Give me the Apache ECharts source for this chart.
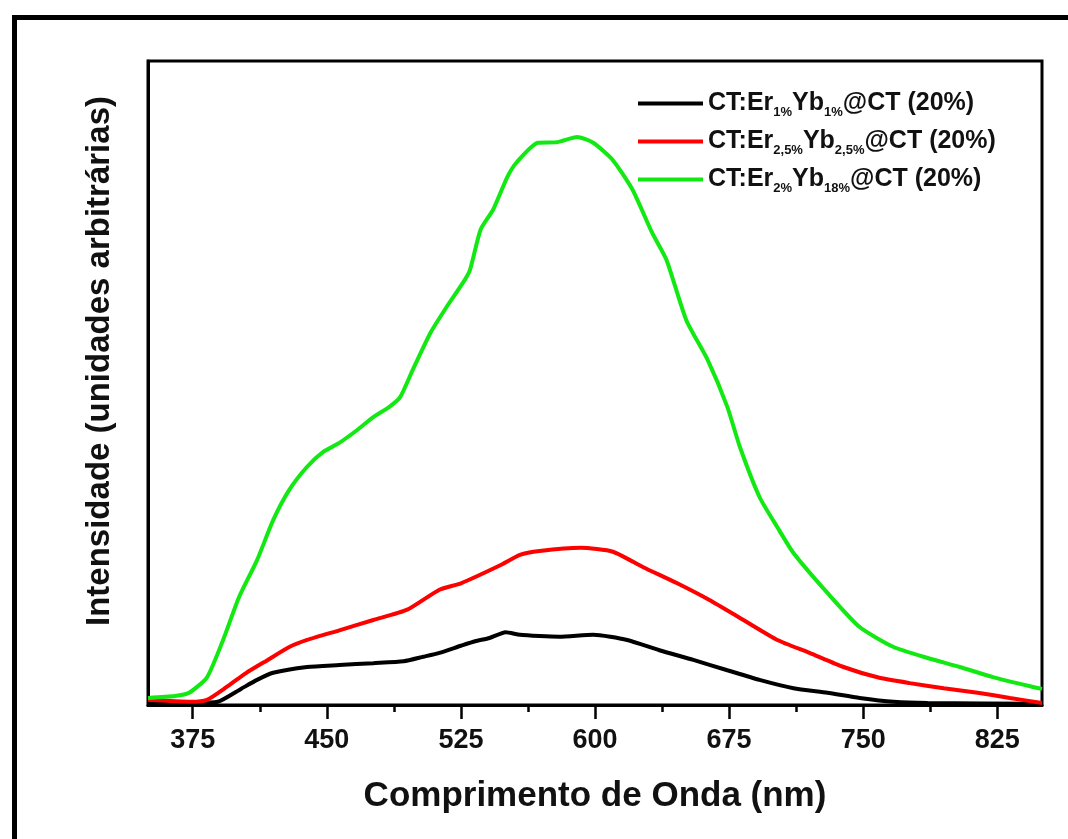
<!DOCTYPE html>
<html>
<head>
<meta charset="utf-8">
<script src="https://cdn.jsdelivr.net/npm/echarts@6/dist/echarts.min.js"></script>
<style>
  html, body { margin: 0; padding: 0; background: #fff; }
  #chart { width: 1068px; height: 839px; }
</style>
</head>
<body>
<div id="chart"></div>
<script>
// ---- data ----
const seriesNames = ['CT:Er1%Yb1%@CT (20%)', 'CT:Er2,5%Yb2,5%@CT (20%)', 'CT:Er2%Yb18%@CT (20%)'];
const legendSubs = [['1%', '1%'], ['2,5%', '2,5%'], ['2%', '18%']];

const blackX = [350,374,389,402,411,420,439,457,476,493,504,513,525,533,541,550,558,569,580,599,618,636,655,674,692,711,730,748,767,786,850];
const blackY = [0.2,0.3,0.5,2.5,3.9,5.0,5.9,6.2,6.5,6.8,7.5,8.1,9.2,9.9,10.4,11.3,10.9,10.7,10.6,10.9,10.1,8.5,7.0,5.4,3.9,2.6,1.9,1.1,0.5,0.3,0.2];

const redX = [350,374,383,394,405,417,429,439,457,476,495,513,525,547,558,569,592,610,627,646,664,683,702,720,739,758,776,795,814,832,850];
const redY = [0.8,0.5,0.8,2.8,5.0,7.0,9.0,10.1,11.6,13.2,14.8,17.9,18.9,21.7,23.3,23.9,24.4,23.8,21.4,18.9,16.3,13.2,10.1,8.1,5.9,4.3,3.4,2.6,1.9,1.1,0.3];

const greenX = [350,365,373,383,392,401,411,420,429,439,448,457,467,476,485,491,498,508,517,526,530,536,543,551,556,568,579,590,599,610,621,632,640,651,663,674,681,692,702,711,730,748,767,786,804,823,845,850];
const greenY = [1.1,1.4,1.9,4.3,10.1,16.8,22.5,28.7,33.4,37.0,39.3,40.7,42.7,44.7,46.3,47.8,52.0,57.8,61.8,65.5,67.5,73.8,76.9,82.0,84.2,87.3,87.4,88.2,87.3,84.6,80.0,73.3,69.1,59.8,53.6,46.3,40.1,32.3,27.6,23.6,17.4,12.1,9.0,7.3,5.9,4.3,2.8,2.5];

const majorTicks = [375, 450, 525, 600, 675, 750, 825];
const minorTicks = [412.5, 487.5, 562.5, 637.5, 712.5, 787.5];

const xTitle = 'Comprimento de Onda (nm)';
const yTitle = 'Intensidade (unidades arbitrárias)';

// ---- chart ----
const FONT = '"Liberation Sans", Arial, Helvetica, sans-serif';
const pairs = (xs, ys) => xs.map((x, i) => [x, ys[i]]);
const chart = echarts.init(document.getElementById('chart'), null, { renderer: 'canvas' });

const lineSeries = (name, xs, ys, color) => ({
  name, type: 'line', data: pairs(xs, ys), xAxisIndex: 0, yAxisIndex: 0,
  showSymbol: false, symbol: 'none', smooth: 0.2,
  lineStyle: { color, width: 4 }, itemStyle: { color }
});

chart.setOption({
  animation: false,
  backgroundColor: '#fff',
  graphic: [{
    type: 'rect', left: 12, top: 15, z: 100,
    shape: { x: 0, y: 0, width: 1200, height: 1000 },
    style: { fill: 'none', stroke: '#000', lineWidth: 5 }
  }],
  grid: {
    left: 148, right: 26, top: 61, bottom: 134,
    show: true, borderColor: '#000', borderWidth: 3, backgroundColor: 'transparent'
  },
  legend: {
    orient: 'vertical', left: 633, top: 86, itemGap: 10,
    itemWidth: 65, itemHeight: 4, icon: 'rect',
    data: seriesNames,
    formatter: (name) => {
      const i = seriesNames.indexOf(name);
      const s = legendSubs[i];
      return '{m|CT:Er}{s|' + s[0] + '}{m|Yb}{s|' + s[1] + '}{m|@CT (20%)}';
    },
    textStyle: {
      fontFamily: FONT, fontWeight: 'bold', fontSize: 25, color: '#111',
      rich: {
        m: { fontFamily: FONT, fontWeight: 'bold', fontSize: 25, lineHeight: 31, color: '#111' },
        s: { fontFamily: FONT, fontWeight: 'bold', fontSize: 13, lineHeight: 6, verticalAlign: 'bottom', color: '#111' }
      }
    }
  },
  xAxis: [{
    type: 'value', min: 350, max: 850, position: 'bottom',
    splitLine: { show: false },
    axisLine: { show: true, lineStyle: { color: '#000', width: 3 } },
    axisTick: { show: true, customValues: majorTicks, length: 14, lineStyle: { color: '#000', width: 2.5 } },
    axisLabel: { show: true, customValues: majorTicks, margin: 22, fontFamily: FONT, fontWeight: 'bold', fontSize: 27, color: '#111' },
    name: xTitle, nameLocation: 'middle', nameGap: 74,
    nameTextStyle: { fontFamily: FONT, fontWeight: 'bold', fontSize: 35, color: '#111' }
  }, {
    type: 'value', min: 350, max: 850, position: 'bottom', offset: 0,
    splitLine: { show: false },
    axisLine: { show: false },
    axisTick: { show: true, customValues: minorTicks, length: 7, lineStyle: { color: '#000', width: 2.5 } },
    axisLabel: { show: false }
  }],
  yAxis: {
    type: 'value', min: 0, max: 100,
    splitLine: { show: false },
    axisLine: { show: true, lineStyle: { color: '#000', width: 3 } },
    axisTick: { show: false }, axisLabel: { show: false },
    name: yTitle, nameLocation: 'middle', nameGap: 32, nameRotate: 90,
    nameTextStyle: { fontFamily: FONT, fontWeight: 'bold', fontSize: 33, color: '#111', padding: [0, 0, 0, 44] }
  },
  series: [
    lineSeries(seriesNames[0], blackX, blackY, '#000000'),
    lineSeries(seriesNames[1], redX, redY, '#ff0000'),
    lineSeries(seriesNames[2], greenX, greenY, '#12e812')
  ]
});
</script>
</body>
</html>
